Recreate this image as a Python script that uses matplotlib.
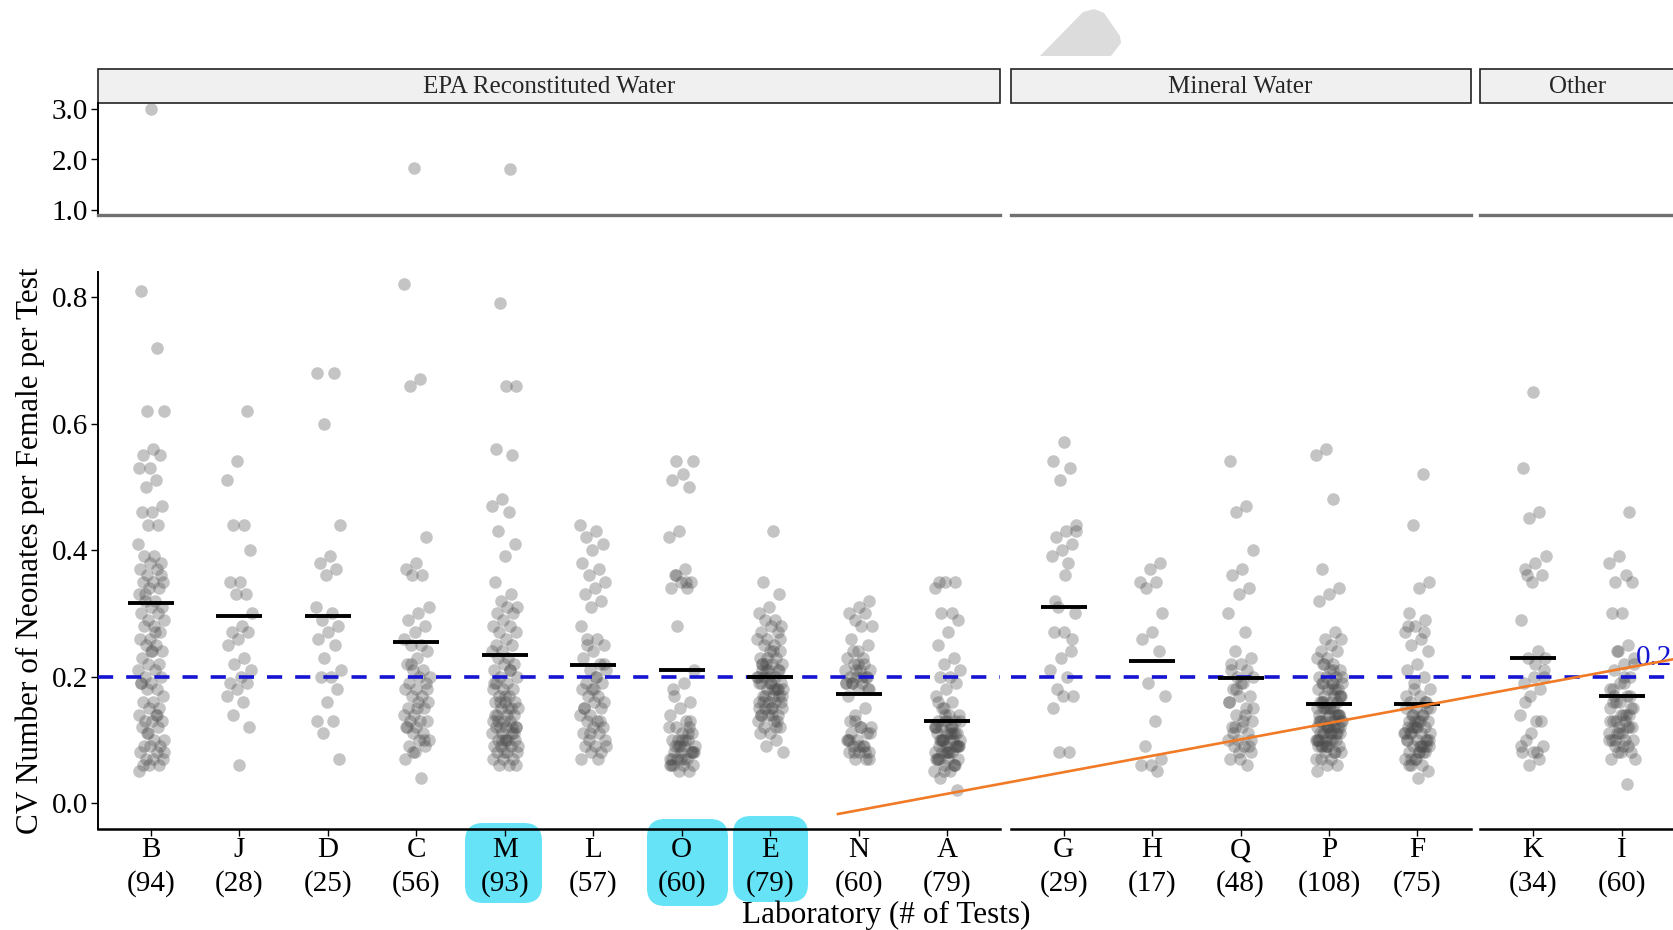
import numpy as np
import matplotlib
matplotlib.use('Agg')
import matplotlib.pyplot as plt
import matplotlib.transforms as mtransforms
from matplotlib.patches import FancyBboxPatch, Polygon, Rectangle
from matplotlib.lines import Line2D

plt.rcParams['font.family'] = ['Liberation Serif', 'DejaVu Serif']

W, H = 1673, 930

# facets and labs
groups = ['EPA Reconstituted Water', 'Mineral Water', 'Other']
labs_epa = ['B', 'J', 'D', 'C', 'M', 'L', 'O', 'E', 'N', 'A']
labs_min = ['G', 'H', 'Q', 'P', 'F']
labs_oth = ['K', 'I']
n_tests = {'B': 94, 'J': 28, 'D': 25, 'C': 56, 'M': 93, 'L': 57, 'O': 60, 'E': 79,
           'N': 60, 'A': 79, 'G': 29, 'H': 17, 'Q': 48, 'P': 108, 'F': 75,
           'K': 34, 'I': 60}
lab_means = {'B': 0.317, 'J': 0.295, 'D': 0.295, 'C': 0.254, 'M': 0.234, 'L': 0.219,
             'O': 0.211, 'E': 0.199, 'N': 0.172, 'A': 0.130, 'G': 0.310, 'H': 0.224,
             'Q': 0.197, 'P': 0.157, 'F': 0.157, 'K': 0.229, 'I': 0.170}
target_cv = 0.2

# CV values (approximate)
cv_B = [3.0, 0.81, 0.72, 0.62, 0.62, 0.56, 0.55, 0.55, 0.53, 0.53, 0.51, 0.50, 0.47, 0.46,
        0.46, 0.44, 0.44, 0.41, 0.39, 0.39, 0.38, 0.38, 0.37, 0.37, 0.36, 0.35, 0.35, 0.35,
        0.34, 0.34, 0.33, 0.32, 0.32, 0.31, 0.31, 0.30, 0.30, 0.29, 0.29, 0.28, 0.28, 0.27,
        0.26, 0.26, 0.25, 0.25, 0.24, 0.24, 0.23, 0.22, 0.22, 0.21, 0.21, 0.20, 0.20, 0.19,
        0.19, 0.18, 0.18, 0.17, 0.16, 0.16, 0.15, 0.15, 0.14, 0.14, 0.13, 0.13, 0.13, 0.12,
        0.12, 0.11, 0.10, 0.10, 0.09, 0.09, 0.09, 0.08, 0.08, 0.07, 0.07, 0.07, 0.06, 0.06,
        0.06, 0.05, 0.27, 0.33, 0.36, 0.24, 0.19, 0.14, 0.11, 0.08]
cv_J = [0.62, 0.54, 0.51, 0.44, 0.44, 0.40, 0.35, 0.35, 0.33, 0.33, 0.30, 0.28, 0.27, 0.27,
        0.26, 0.25, 0.23, 0.22, 0.21, 0.20, 0.19, 0.19, 0.18, 0.17, 0.16, 0.14, 0.12, 0.06]
cv_D = [0.68, 0.68, 0.60, 0.44, 0.39, 0.38, 0.37, 0.36, 0.31, 0.30, 0.29, 0.28, 0.27, 0.26,
        0.25, 0.23, 0.21, 0.20, 0.20, 0.18, 0.16, 0.13, 0.13, 0.11, 0.07]
cv_C = [1.83, 0.82, 0.67, 0.66, 0.42, 0.38, 0.37, 0.36, 0.36, 0.31, 0.30, 0.29, 0.28, 0.27,
        0.26, 0.25, 0.25, 0.24, 0.23, 0.22, 0.21, 0.21, 0.20, 0.20, 0.19, 0.19, 0.18, 0.18,
        0.17, 0.17, 0.16, 0.16, 0.15, 0.15, 0.14, 0.14, 0.13, 0.13, 0.13, 0.12, 0.12, 0.11,
        0.11, 0.10, 0.10, 0.09, 0.09, 0.08, 0.07, 0.04, 0.22, 0.18, 0.15, 0.12, 0.10, 0.08]
cv_M = [1.82, 0.79, 0.66, 0.66, 0.56, 0.55, 0.48, 0.47, 0.46, 0.43, 0.41, 0.39, 0.35, 0.33,
        0.32, 0.31, 0.31, 0.30, 0.30, 0.29, 0.28, 0.28, 0.27, 0.27, 0.26, 0.25, 0.25, 0.24,
        0.24, 0.23, 0.23, 0.22, 0.22, 0.21, 0.21, 0.20, 0.20, 0.19, 0.19, 0.18, 0.18, 0.18,
        0.17, 0.17, 0.16, 0.16, 0.16, 0.15, 0.15, 0.15, 0.14, 0.14, 0.14, 0.13, 0.13, 0.13,
        0.12, 0.12, 0.12, 0.12, 0.11, 0.11, 0.11, 0.10, 0.10, 0.10, 0.10, 0.09, 0.09, 0.09,
        0.08, 0.08, 0.08, 0.07, 0.07, 0.07, 0.06, 0.06, 0.06, 0.17, 0.14, 0.12, 0.10, 0.09,
        0.15, 0.13, 0.11, 0.08, 0.19, 0.21, 0.16, 0.12, 0.10]
cv_L = [0.44, 0.43, 0.42, 0.41, 0.40, 0.38, 0.37, 0.36, 0.35, 0.34, 0.33, 0.32, 0.31, 0.28,
        0.26, 0.26, 0.25, 0.24, 0.23, 0.22, 0.21, 0.21, 0.20, 0.19, 0.19, 0.18, 0.18, 0.17,
        0.17, 0.16, 0.16, 0.15, 0.15, 0.14, 0.14, 0.13, 0.13, 0.12, 0.12, 0.11, 0.11, 0.10,
        0.10, 0.09, 0.09, 0.08, 0.08, 0.07, 0.07, 0.25, 0.22, 0.18, 0.15, 0.13, 0.11, 0.09,
        0.20]
cv_O = [0.54, 0.54, 0.52, 0.51, 0.50, 0.43, 0.42, 0.37, 0.36, 0.35, 0.35, 0.34, 0.34, 0.28,
        0.21, 0.19, 0.18, 0.16, 0.15, 0.14, 0.13, 0.12, 0.11, 0.11, 0.10, 0.10, 0.09, 0.09,
        0.09, 0.08, 0.08, 0.08, 0.07, 0.07, 0.07, 0.06, 0.06, 0.06, 0.05, 0.05, 0.12, 0.10,
        0.09, 0.08, 0.07, 0.06, 0.11, 0.10, 0.08, 0.07, 0.17, 0.13, 0.09, 0.06, 0.35, 0.36,
        0.08, 0.10, 0.07, 0.12]
cv_E = [0.43, 0.35, 0.33, 0.31, 0.30, 0.29, 0.29, 0.28, 0.28, 0.27, 0.27, 0.26, 0.26, 0.25,
        0.25, 0.24, 0.24, 0.23, 0.23, 0.22, 0.22, 0.22, 0.21, 0.21, 0.21, 0.20, 0.20, 0.20,
        0.19, 0.19, 0.19, 0.18, 0.18, 0.18, 0.17, 0.17, 0.17, 0.16, 0.16, 0.16, 0.15, 0.15,
        0.15, 0.14, 0.14, 0.14, 0.13, 0.13, 0.12, 0.12, 0.11, 0.11, 0.10, 0.09, 0.08, 0.24,
        0.22, 0.21, 0.20, 0.19, 0.18, 0.17, 0.16, 0.15, 0.14, 0.13, 0.23, 0.20, 0.18, 0.16,
        0.26, 0.19, 0.15, 0.12, 0.21, 0.17, 0.14, 0.22, 0.18]
cv_N = [0.32, 0.31, 0.30, 0.30, 0.29, 0.28, 0.28, 0.26, 0.25, 0.24, 0.23, 0.22, 0.22, 0.21,
        0.21, 0.20, 0.20, 0.20, 0.19, 0.19, 0.19, 0.18, 0.18, 0.17, 0.15, 0.13, 0.12, 0.12,
        0.11, 0.11, 0.10, 0.10, 0.09, 0.09, 0.08, 0.08, 0.08, 0.07, 0.07, 0.21, 0.20, 0.19,
        0.18, 0.22, 0.10, 0.09, 0.08, 0.11, 0.12, 0.13, 0.20, 0.21, 0.19, 0.23, 0.24, 0.07,
        0.09, 0.10, 0.08, 0.14]
cv_A = [0.35, 0.35, 0.35, 0.34, 0.30, 0.30, 0.29, 0.27, 0.25, 0.23, 0.22, 0.21, 0.20, 0.20,
        0.19, 0.18, 0.17, 0.16, 0.15, 0.14, 0.14, 0.13, 0.13, 0.13, 0.12, 0.12, 0.12, 0.11,
        0.11, 0.11, 0.10, 0.10, 0.10, 0.10, 0.09, 0.09, 0.09, 0.08, 0.08, 0.08, 0.07, 0.07,
        0.07, 0.06, 0.06, 0.05, 0.05, 0.04, 0.02, 0.13, 0.12, 0.11, 0.10, 0.09, 0.08, 0.07,
        0.06, 0.14, 0.12, 0.11, 0.10, 0.09, 0.08, 0.07, 0.06, 0.15, 0.13, 0.11, 0.10, 0.09,
        0.08, 0.07, 0.12, 0.10, 0.09, 0.08, 0.16, 0.11, 0.05]
cv_G = [0.57, 0.54, 0.53, 0.51, 0.43, 0.43, 0.42, 0.41, 0.40, 0.39, 0.38, 0.31, 0.30, 0.27,
        0.27, 0.24, 0.23, 0.21, 0.20, 0.18, 0.17, 0.17, 0.15, 0.08, 0.08, 0.44, 0.36, 0.32,
        0.26]
cv_H = [0.38, 0.37, 0.35, 0.35, 0.34, 0.30, 0.27, 0.26, 0.24, 0.19, 0.17, 0.13, 0.09, 0.07,
        0.06, 0.06, 0.05]
cv_Q = [0.54, 0.47, 0.46, 0.40, 0.37, 0.36, 0.34, 0.33, 0.30, 0.27, 0.24, 0.23, 0.22, 0.22,
        0.21, 0.20, 0.20, 0.19, 0.18, 0.17, 0.17, 0.16, 0.15, 0.14, 0.13, 0.12, 0.12, 0.11,
        0.10, 0.10, 0.09, 0.09, 0.08, 0.07, 0.07, 0.06, 0.18, 0.15, 0.13, 0.11, 0.09, 0.08,
        0.16, 0.14, 0.12, 0.10, 0.19, 0.21]
cv_P = [0.56, 0.55, 0.48, 0.37, 0.34, 0.33, 0.32, 0.27, 0.26, 0.26, 0.25, 0.24, 0.24, 0.23,
        0.23, 0.22, 0.22, 0.21, 0.21, 0.20, 0.20, 0.20, 0.19, 0.19, 0.19, 0.18, 0.18, 0.18,
        0.17, 0.17, 0.17, 0.16, 0.16, 0.16, 0.15, 0.15, 0.15, 0.15, 0.14, 0.14, 0.14, 0.14,
        0.13, 0.13, 0.13, 0.13, 0.12, 0.12, 0.12, 0.12, 0.11, 0.11, 0.11, 0.11, 0.10, 0.10,
        0.10, 0.10, 0.09, 0.09, 0.09, 0.09, 0.08, 0.08, 0.08, 0.07, 0.07, 0.06, 0.06, 0.05,
        0.21, 0.19, 0.17, 0.15, 0.13, 0.11, 0.09, 0.20, 0.18, 0.16, 0.14, 0.12, 0.10, 0.08,
        0.22, 0.17, 0.15, 0.13, 0.11, 0.09, 0.07, 0.19, 0.16, 0.14, 0.12, 0.10, 0.18, 0.15,
        0.13, 0.11, 0.09, 0.14, 0.12, 0.10, 0.13, 0.11, 0.12, 0.10]
cv_F = [0.52, 0.44, 0.35, 0.34, 0.30, 0.29, 0.28, 0.27, 0.26, 0.25, 0.24, 0.22, 0.21, 0.20,
        0.19, 0.18, 0.17, 0.16, 0.16, 0.15, 0.15, 0.14, 0.14, 0.13, 0.13, 0.12, 0.12, 0.12,
        0.11, 0.11, 0.11, 0.10, 0.10, 0.10, 0.09, 0.09, 0.09, 0.08, 0.08, 0.08, 0.07, 0.07,
        0.06, 0.06, 0.05, 0.04, 0.28, 0.27, 0.18, 0.15, 0.13, 0.11, 0.09, 0.07, 0.17, 0.14,
        0.12, 0.10, 0.08, 0.06, 0.16, 0.13, 0.11, 0.09, 0.07, 0.15, 0.12, 0.10, 0.08, 0.14,
        0.11, 0.09, 0.13, 0.10, 0.12]
cv_K = [0.65, 0.53, 0.46, 0.45, 0.39, 0.38, 0.37, 0.36, 0.35, 0.29, 0.24, 0.23, 0.21, 0.20,
        0.19, 0.18, 0.17, 0.14, 0.13, 0.10, 0.09, 0.08, 0.08, 0.07, 0.06, 0.23, 0.22, 0.16,
        0.13, 0.11, 0.09, 0.08, 0.36, 0.20]
cv_I = [0.46, 0.39, 0.38, 0.36, 0.35, 0.35, 0.30, 0.30, 0.25, 0.24, 0.23, 0.22, 0.21, 0.20,
        0.19, 0.18, 0.17, 0.16, 0.15, 0.14, 0.13, 0.12, 0.11, 0.10, 0.10, 0.09, 0.08, 0.08,
        0.07, 0.03, 0.24, 0.22, 0.20, 0.18, 0.17, 0.16, 0.15, 0.14, 0.13, 0.12, 0.11, 0.10,
        0.09, 0.08, 0.07, 0.19, 0.17, 0.15, 0.14, 0.13, 0.12, 0.11, 0.10, 0.09, 0.16, 0.14,
        0.12, 0.11, 0.13, 0.10]

cv = {'B': cv_B, 'J': cv_J, 'D': cv_D, 'C': cv_C, 'M': cv_M, 'L': cv_L, 'O': cv_O,
      'E': cv_E, 'N': cv_N, 'A': cv_A, 'G': cv_G, 'H': cv_H, 'Q': cv_Q, 'P': cv_P,
      'F': cv_F, 'K': cv_K, 'I': cv_I}
group_labs = [labs_epa, labs_min, labs_oth]


def px_rect(x0, y0, x1, y1):
    # pixel box (from top-left) -> figure fraction rect
    return [x0 / W, 1 - y1 / H, (x1 - x0) / W, (y1 - y0) / H]


fig = plt.figure(figsize=(W / 100, H / 100), dpi=100)
px = mtransforms.Affine2D().scale(1 / W, -1 / H).translate(0, 1) + fig.transFigure

# annotation highlights behind the tick labels
for (x0, y0, x1, y1) in [(465, 823, 542, 903), (647, 819, 728, 906), (733, 816, 808, 902)]:
    fig.add_artist(FancyBboxPatch((x0, y0), x1 - x0, y1 - y0,
                                  boxstyle='round,pad=0,rounding_size=18',
                                  transform=px, fc='#66e3f6', ec='none', zorder=-1))

panel_x = [(98, 1000), (1010.5, 1470.5), (1480, 1674.6)]
pt_color = '#4a4a4a'

for g, (name, labs) in enumerate(zip(groups, group_labs)):
    x0, x1 = panel_x[g]
    ax_top = fig.add_axes(px_rect(x0, 103.5, x1, 215.5))
    ax_bot = fig.add_axes(px_rect(x0, 272, x1, 829))
    n = len(labs)
    for ax in (ax_top, ax_bot):
        ax.set_facecolor('none')
        ax.set_xlim(-0.6, n - 1 + 0.6)
        ax.spines['top'].set_visible(False)
        ax.spines['right'].set_visible(False)
    ax_top.set_ylim(0.891, 3.109)
    ax_bot.set_ylim(-0.041, 0.8395)

    for i, lab in enumerate(labs):
        vals = np.array(cv[lab])
        jit = ((np.arange(len(vals)) * 0.618034 + 0.5 + 0.3 * i) % 1 - 0.5) * 0.3
        xs = i + jit
        hi = vals > 0.9
        ax_bot.scatter(xs[~hi], vals[~hi], s=82, c=pt_color, alpha=0.32,
                       linewidths=0, zorder=2)
        ax_top.scatter(xs[hi], vals[hi], s=82, c=pt_color, alpha=0.32,
                       linewidths=0, zorder=2)
        ax_bot.hlines(lab_means[lab], i - 0.26, i + 0.26, color='black', lw=2.8, zorder=4)

    ax_bot.axhline(target_cv, color='#1414d2', lw=2.6, dashes=(4.2, 3.6), zorder=3)

    # strip
    strip_h = 34.5 / 112
    ax_top.add_patch(Rectangle((0, 1), 1, strip_h, transform=ax_top.transAxes,
                               fc='#f0f0f0', ec='#222222', lw=1.2, clip_on=False))
    ax_top.text(0.5, 1 + strip_h / 2 - 0.01, name, transform=ax_top.transAxes,
                ha='center', va='center', fontsize=18, color='#262626')

    ax_top.spines['bottom'].set_color('#707070')
    ax_top.spines['bottom'].set_linewidth(2.4)
    ax_top.tick_params(axis='x', bottom=False, labelbottom=False)
    ax_bot.spines['bottom'].set_linewidth(1.8)
    ax_bot.set_xticks(range(n))
    ax_bot.set_xticklabels([f'{lab}\n({n_tests[lab]})' for lab in labs],
                           fontsize=21, linespacing=1.33)
    ax_bot.tick_params(axis='x', length=5, width=1, pad=1)

    if g == 0:
        ax_top.set_yticks([1, 2, 3])
        ax_top.set_yticklabels(['1.0', '2.0', '3.0'])
        ax_bot.set_yticks([0, 0.2, 0.4, 0.6, 0.8])
        ax_bot.set_yticklabels(['0.0', '0.2', '0.4', '0.6', '0.8'])
        for ax in (ax_top, ax_bot):
            ax.tick_params(axis='y', labelsize=21, length=5, width=1, pad=2)
            ax.spines['left'].set_linewidth(1.4)
    else:
        for ax in (ax_top, ax_bot):
            ax.spines['left'].set_visible(False)
            ax.tick_params(axis='y', left=False, labelleft=False)

fig.text(30 / W, 1 - 551 / H, 'CV Number of Neonates per Female per Test',
         rotation=90, ha='center', va='center', fontsize=22.5)
fig.text(886 / W, 1 - 915 / H, 'Laboratory (# of Tests)',
         ha='center', va='center', fontsize=22.5)
fig.text(1636 / W, 1 - 658 / H, '0.2', color='#1414d2', fontsize=21, va='center')

# overlays
fig.add_artist(Polygon([(1040, 56), (1083, 12), (1094, 9), (1104, 13), (1120, 36),
                        (1121, 43), (1111, 56)], closed=True, transform=px,
                       fc='#dcdcdc', ec='none', zorder=5))
fig.add_artist(Line2D([838, 1680], [814, 658], transform=px, color='#f07a26',
                      lw=1.9, zorder=6))

fig.savefig('out.png', dpi=100)
